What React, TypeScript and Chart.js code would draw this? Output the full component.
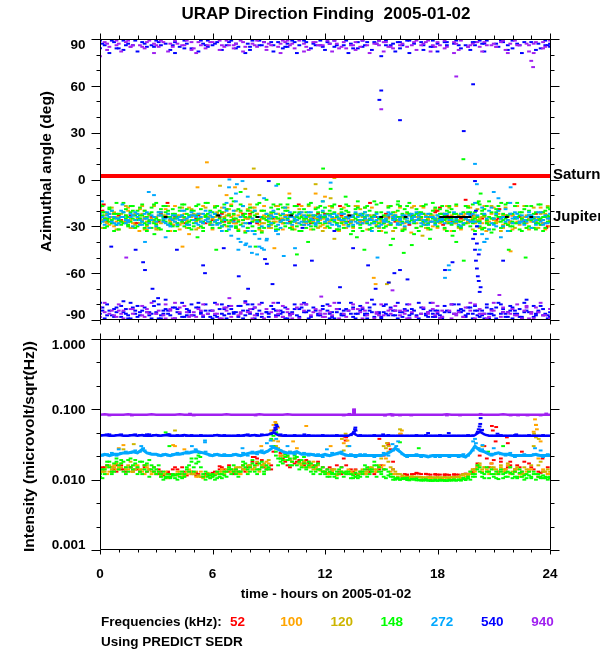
import React, { useEffect, useRef } from "react";
import { Chart, registerables } from "chart.js";
Chart.register(...registerables);

// ---------- sample times (hours) ----------
const H = [0,.25,.5,.75,1,1.25,1.5,1.75,2,2.25,2.5,2.75,3,3.25,3.5,3.75,4,4.25,4.5,4.75,5,5.25,5.5,5.75,6,6.25,6.5,6.75,7,7.25,7.5,7.75,8,8.25,8.5,8.75,9,9.25,9.5,9.75,10,10.25,10.5,10.75,11,11.25,11.5,11.75,12,12.25,12.5,12.75,13,13.25,13.5,13.75,14,14.25,14.5,14.75,15,15.25,15.5,15.75,16,16.25,16.5,16.75,17,17.25,17.5,17.75,18,18.25,18.5,18.75,19,19.25,19.5,19.75,20,20.25,20.5,20.75,21,21.25,21.5,21.75,22,22.25,22.5,22.75,23,23.25,23.5,23.75,24];
const H2 = [.13,.38,.63,.88,1.13,1.38,1.63,1.88,2.13,2.38,2.63,2.88,3.13,3.38,3.63,3.88,4.13,4.38,4.63,4.88,5.13,5.38,5.63,5.88,6.13,6.38,6.63,6.88,7.13,7.38,7.63,7.88,8.13,8.38,8.63,8.88,9.13,9.38,9.63,9.88,10.13,10.38,10.63,10.88,11.13,11.38,11.63,11.88,12.13,12.38,12.63,12.88,13.13,13.38,13.63,13.88,14.13,14.38,14.63,14.88,15.13,15.38,15.63,15.88,16.13,16.38,16.63,16.88,17.13,17.38,17.63,17.88,18.13,18.38,18.63,18.88,19.13,19.38,19.63,19.88,20.13,20.38,20.63,20.88,21.13,21.38,21.63,21.88,22.13,22.38,22.63,22.88,23.13,23.38,23.63,23.88];

// ---------- azimuthal angle (deg) ----------
const SATURN_DEG = 2.3;
const JUPITER_DEG = -24;

const R_A1 = [-20,-27,null,-24, -26,null,-23,-28, null,-25,-22,null, -27,null,-24,-29, null,-26,null,-23, -25,null,-28,null, null,-24,-27,null, -26,null,-22,-25, null,-28,null,-24, -23,null,-26,null, -27,-24,null,-29, null,-25,-22,null, -26,null,-28,-23, null,-24,null,-27, -25,null,-23,null, -28,-24,null,-26, null,-27,-23,null, -24,null,-27,-21, -18,-22,-25,null, -24,null,-27,-23, null,-25,-28,null, -26,null,-23,-27, null,-24,-27,null, -25,null,-28,-30];
const R_A2 = [null,-25,-22,null, -23,null,-27,null, -28,null,null,-24, null,-22,null,-26, -24,null,-28,null, null,-23,null,-25, -26,null,-22,null, null,-28,null,-24, -22,null,-26,null, null,-25,null,-28, -23,null,-26,null, null,-28,null,-24, -22,null,-25,null, null,-27,-23,null, -28,null,null,-24, null,-22,null,-27, -25,null,-29,null, null,-22,-25,null, -20,null,-23,-27, null,-25,null,-22, -27,null,-23,null, null,-25,null,-29, -23,null,-26,null, null,-22,-26,null, -27];
const R_A_OUT = [[22.1,-3],[19.5,-13],[18.3,-29],[14.4,-15],[0.2,-16],[3.6,-15],[10.6,-16],[23.8,-31],[12.8,-17],[21.3,-19],[17.9,-20]];

const O_A1 = [-26,-23,-29,-21, -24,-27,-20,-28, -22,-26,-30,-25, -28,-21,-24,-27, -25,-29,-22,-35, -23,-26,-28,-24, -29,-22,-26,-10, -24,-28,-21,-25, -20,-26,-29,-23, -27,-24,-22,-28, -25,-30,-24,-21, -28,-23,-9,-26, -24,-27,-25,-22, -29,-23,-26,-28, -22,-26,-24,-29, -27,-24,-28,-21, -25,-28,-23,-26, -22,-27,-25,-30, -26,-24,-28,-23, -24,-30,-22,-26, -28,-25,-23,-27, -26,-22,-29,-24, -23,-27,-25,-28, -27,-24,-29,-22, -26];
const O_A2 = [-21,-28,-24,-27, -27,-23,-26,-22, -25,-20,-28,-24, -23,-27,-22,-29, -28,-24,-27,-23, -26,-22,-24,-29, -24,-28,-21,-27, -28,-23,-26,-19, -25,-22,-28,-26, -22,-27,-25,-23, -28,-24,-22,-27, -24,-27,-25,-29, -26,-22,-28,-24, -24,-26,-22,-27, -27,-23,-28,-25, -24,-29,-25,-27, -28,-22,-26,-24, -25,-29,-23,-27, -28,-25,-27,-22, -26,-23,-27,-25, -24,-28,-26,-22, -27,-25,-23,-28, -25,-29,-24,-26, -24,-26,-28,-25];
const O_A3 = [-18,-31,null,-30, -32,null,-18,-31, null,-17,-32,null, -31,null,-19,-33, -17,-32,null,-18, null,-31,-17,null, -32,null,-18,-30, -16,-31,null,-33, null,-18,-32,-17, -31,null,-17,-32, -18,-31,null,-17, null,-32,-18,null, -31,-17,null,-33, -18,null,-31,-17, null,-32,-18,null, -33,null,-17,-31, -18,-31,null,-17, null,-18,-32,null, -31,null,-17,-33, -17,-32,null,-18, null,-31,-17,-32, -18,null,-31,null, -32,-17,null,-31, null,-31,-18,-32, -30];
const O_A_OUT = [[5.7,11],[7.2,-5],[4.4,-43],[10.1,-9],[12.0,-11],[14.6,-63],[14.7,-67],[21.9,-46],[9.3,-44],[2.1,-33],[16.6,-34],[23.6,-21],[5.2,-5],[20.6,-33],[8.0,-16]];

const Y_A1 = [-23,-27,-25,-22, -26,-24,-29,-23, -25,-22,-27,-26, -24,-28,-23,-26, -27,-23,-25,-29, -22,-26,-28,-24, -25,-21,-27,-23, -27,-20,-24,-6, -23,-26,-10,-28, -24,-27,-22,-25, -26,-24,-28,-23, -23,-27,-25,-30, -25,-22,-38,-26, -27,-24,-26,-23, -24,-28,-25,-27, -26,-23,-29,-24, -27,-25,-22,-26, -24,-28,-26,-23, -25,-22,-27,-26, -28,-24,-25,-27, -23,-26,-24,-29, -25,-27,-23,-26, -28,-24,-26,-23, -25,-27,-22,-28, -24];
const Y_A2 = [-26,-22,-28,-24, -22,-27,-25,-29, -28,-24,-23,-27, -26,-23,-29,-25, -23,-28,-26,-24, -27,-25,-23,-28, -26,-28,-24,-22, -23,-26,-28,-25, -27,-22,-25,-24, -29,-25,-27,-23, -24,-27,-22,-26, -26,-24,-28,-25, -28,-25,-24,-27, -25,-28,-22,-26, -26,-23,-27,-24, -28,-25,-23,-26, -24,-27,-25,-28, -26,-23,-27,-25, -27,-25,-24,-28, -23,-26,-28,-24, -26,-24,-27,-25, -28,-25,-24,-27, -24,-27,-28,-25, -27,-25,-26,-24];
const Y_A3 = [-31,null,-18,-32, null,-17,-31,null, -19,-32,null,-17, -32,null,-17,null, null,-18,-31,-19, -32,null,-18,null, -17,-31,null,-19, null,-32,-17,-31, -18,null,-33,null, -31,-17,null,-18, null,-32,-19,null, -17,null,-31,-33, null,-18,-32,null, -31,null,-17,-19, -18,-32,null,-31, null,-17,-33,null, -32,null,-18,-31, -17,-31,null,-19, null,-32,-18,null, -31,null,-17,-32, -19,-31,null,-17, null,-33,-18,null, -31,null,-17,-32, -18,-31,null,-17];
const Y_A_OUT = [[6.4,-4],[11.5,-3],[12.3,-12],[15.3,-67],[15.4,-66],[12.5,1],[8.6,-20],[8.2,7],[17.2,-36],[3.0,-32]];

const G_A1 = [-24,-21,-27,-25, -22,-28,-24,-20, -26,-23,-29,-21, -25,-19,-27,-24, -22,-26,-30,-23, -20,-25,-27,-22, -24,-28,-21,-26, -17,-25,-29,-22, -24,-20,-27,-25, -23,-28,-19,-26, -25,-22,-30,-24, -21,-26,-23,-28, -24,-20,-27,-25, -22,-29,-24,-18, -26,-23,-28,-21, -25,-30,-22,-26, -24,-19,-27,-23, -26,-22,-28,-25, -23,-27,-20,-25, -26,-22,-28,-24, -21,-27,-23,-29, -25,-20,-26,-23, -27,-24,-21,-26, -23,-28,-25,-20, -24];
const G_A2 = [-28,-25,-19,-22, -26,-21,-30,-25, -20,-27,-24,-31, -29,-23,-21,-28, -25,-20,-24,-27, -28,-22,-31,-25, -21,-23,-27,-19, -26,-30,-20,-24, -28,-23,-31,-20, -27,-21,-25,-22, -20,-27,-24,-29, -25,-30,-19,-23, -28,-23,-21,-30, -25,-21,-33,-26, -22,-28,-24,-30, -21,-26,-29,-23, -29,-25,-22,-28, -21,-27,-24,-20, -27,-22,-25,-29, -22,-27,-25,-21, -25,-30,-19,-24, -28,-24,-22,-29, -22,-28,-25,-31, -26,-21,-29,-24, -27];
const G_A3 = [-23,-26,-20,-29, -24,-19,-27,-23, -25,-28,-22,-26, -21,-26,-24,-30, -28,-23,-19,-26, -23,-27,-24,-20, -27,-25,-29,-23, -22,-19,-26,-28, -21,-26,-24,-22, -25,-30,-23,-28, -23,-26,-21,-25, -27,-23,-26,-21, -22,-26,-24,-28, -27,-24,-22,-29, -24,-20,-27,-25, -28,-23,-25,-20, -22,-27,-24,-31, -24,-29,-22,-26, -25,-23,-28,-22, -24,-29,-21,-26, -27,-22,-26,-21, -23,-27,-25,-30, -25,-21,-28,-23, -22,-26,-24,-27];
const G_A4 = [-17,-30,-26,-15, -29,-25,-17,-31, -18,-31,-27,-16, -31,-17,-33,-19, -30,-16,-28,-32, -17,-30,-15,-29, -18,-31,-16,-30, -14,-33,-17,-31, -30,-16,-34,-13, -18,-32,-16,-30, -31,-17,-33,-19, -16,-32,-18,-14, -30,-17,-32,-19, -16,-35,-19,-31, -18,-32,-14,-33, -31,-18,-38,-16, -33,-17,-42,-19, -30,-16,-32,-18, -19,-31,-17,-33, -30,13,-18,-16, -15,-32,-17,-34, -19,-31,-16,-33, -17,-32,-19,-30, -31,-16,-33,-18];
const G_A5 = [-21,-25,-28,-22, -27,-23,-21,-26, -23,-20,-26,-28, -26,-24,-20,-22, -24,-27,-22,-20, -26,-19,-23,-27, -22,-20,-25,-28, -25,-27,-23,-20, -27,-24,-20,-26, -21,-24,-27,-20, -28,-21,-25,-27, -23,-28,-21,-24, -26,-22,-28,-21, -20,-27,-25,-23, -21,-26,-23,-28, -23,-27,-21,-24, -27,-21,-26,-22, -21,-26,-24,-28, -22,-26,-21,-27, -27,-21,-24,-28, -24,-20,-28,-25, -21,-24,-28,-22, -28,-23,-26,-20, -25,-28,-21,-23];
const G_A6 = [-16,-31,-18,-33, -32,-15,-29,-17, -30,-16,-33,-18, -15,-32,-17,-29, -33,-18,-16,-31, -30,-16,-33,-15, -31,-17,-30,-33, -12,-31,-16,-34, -18,-33,-15,-31, -29,-16,-32,-18, -16,-32,-17,-33, -31,-15,-30,-17, -18,-31,-16,-32, -31,-17,-30,-14, -33,-17,-31,-16, -15,-34,-17,-31, -17,-32,-15,-35, -33,-17,-31,-15, -30,-17,-33,-19, -16,-31,-17,-30, -33,-16,-31,-14, -32,-17,-30,-15, -30,-15,-33,-17, -17,-32,-16,-31, -19];
const G_A_OUT = [[2.9,-35],[5.2,-37],[8.3,-43],[10.5,-48],[11.1,-40],[13.7,-37],[14.1,-45],[15.5,-42],[16.2,-47],[19.0,-40],[19.4,-52],[20.3,-9],[21.8,-45],[22.7,-50],[9.5,-3],[12.3,-6],[10.1,-12],[21.4,-15],[6.2,-45],[17.6,-38],[11.9,7],[7.5,-8],[13.1,-11],[15.9,-14],[18.8,-36],[20.2,-14]];

const C_A1 = [-22,-26,-24,-28, -25,-21,-27,-23, -24,-29,-21,-26, -27,-23,-25,-30, -23,-26,-20,-24, -26,-22,-28,-25, -24,-29,-33,-15, -36,-9,-40,-28, -43,-20,-38,-12, -30,-24,-35,-22, -26,-29,-23,-27, -24,-21,-28,-25, -27,-23,-26,-30, -22,-25,-29,-24, -28,-23,-33,-26, -24,-27,-22,-25, -26,-23,-28,-24, -25,-29,-22,-27, -23,-26,-24,-28, -27,-22,-25,-23, -15,-28,-40,-20, -29,-12,-24,-33, -25,-22,-27,-24, -23,-26,-21,-28, -25];
const C_A2 = [-27,-23,-20,-25, -24,-28,-22,-26, -29,-25,-31,-10, -23,-27,-22,-26, -25,-20,-29,-23, -28,-24,-26,-21, -27,-23,-26,-5, -27,-45,-17,-33, -25,-48,-30,-39, -23,-33,-27,-18, -24,-27,-22,-29, -21,-26,-24,-14, -25,-29,-23,-26, -28,-24,-27,-22, -25,-29,-24,-30, -27,-23,-26,-28, -23,-27,-25,-21, -28,-24,-27,-25, -26,-22,-58,-24, -24,-28,-26,-22, -30,-35,-25,-18, -22,-37,-27,-15, -24,-28,-26,-21, -27,-24,-29,-25];
const C_A3 = [-25,-29,-22,-24, -28,-24,-26,-30, -22,-27,-25,-23, -30,-21,-28,-25, -27,-24,-26,-29, -23,-29,-22,-27, -29,-26,-30,-20, -30,-14,-24,-42, -28,-35,-24,-45, -25,-20,-29,-26, -28,-24,-26,-21, -27,-25,-29,-23, -23,-28,-22,-25, -26,-30,-23,-28, -23,-27,-26,-22, -29,-25,-28,-23, -25,-30,-23,-27, -23,-26,-29,-24, -27,-25,-22,-26, -25,-30,-24,-27, -27,-45,-22,-32, -25,-20,-30,-26, -28,-25,-23,-27, -25,-29,-27,-23, -22];
const C_A4 = [-24,-21,-27,-29, -20,-26,-24,-21, -26,-22,-28,-24, -21,-25,-29,-23, -29,-23,-25,-21, -24,-27,-20,-23, -22,-28,-18,-32, -20,-38,-30,-11, -33,-27,-44,-22, -28,-22,-31,-24, -21,-25,-28,-23, -29,-23,-27,-20, -26,-24,-29,-22, -24,-27,-21,-26, -21,-25,-28,-24, -26,-21,-24,-29, -28,-25,-22,-26, -22,-27,-24,-29, -24,-28,-26,-21, -29,-24,-22,-27, -23,-18,-38,-28, -30,-25,-19,-22, -21,-27,-29,-23, -24,-21,-26,-28];
const C_A_OUT = [[0.1,-14],[1.2,-16],[2.4,-40],[2.6,-8],[6.9,0],[7.3,-3],[7.6,-1],[8.1,-47],[8.5,-43],[8.9,-38],[9.4,-4],[12.3,-2],[14.8,-50],[18.4,-63],[18.6,-55],[20.1,-3],[20.0,10],[20.5,-40],[21.0,-8],[21.9,-5],[23.0,-31],[9.8,-49],[10.4,-44],[3.5,-37],[7.0,-30],[7.8,-41]];

const B_N1 = [89,86,90,88, 84,89,87,null, 90,88,null,86, 89,null,87,90, 88,85,89,null, 90,null,87,89, null,88,90,86, 89,87,null,90, 85,null,89,88, 90,86,88,null, 87,89,null,90, 88,null,86,89, 90,87,89,null, 86,90,84,88, 89,88,90,87, 79,89,86,90, 88,null,89,87, 90,86,null,89, 87,90,88,null, 89,null,86,90, 88,89,87,90, null,90,88,86, 89,87,90,null, 88,90,84,89, 87];
const B_N2 = [87,null,89,84, 90,86,null,89, null,87,90,85, 88,90,null,86, 90,null,87,84, null,89,86,90, 87,90,null,88, null,85,90,87, 89,90,86,null, 88,null,90,85, null,88,86,89, 90,87,null,85, 88,null,86,90, 89,87,90,null, 86,90,88,89, 90,null,87,88, 86,89,90,null, 88,null,85,90, null,88,90,87, 86,90,null,88, 90,87,89,null, 87,89,null,90, null,86,88,90, 90,87,null,86];
const B_N3 = [84,null,81,null, null,83,null,86, 82,null,85,null, null,86,null,83, 81,null,84,null, null,82,null,85, 86,null,83,null, null,84,null,81, 83,null,86,null, null,82,null,84, 85,null,81,null, null,84,null,86, 83,null,85,null, null,81,null,84, 85,null,83,null, null,86,null,82, 84,null,81,null, null,83,null,85, 82,null,86,null, null,84,null,83, 86,null,82,null, null,85,null,83, 84,null,81,null, null,83,null,86, 85];
const B_S1 = [-86,-89,-84,-88, -90,-85,-87,-82, -88,-84,-90,-86, -85,-89,-83,-87, -89,-86,-90,-84, -87,-82,-88,-90, -84,-88,-86,-89, -90,-85,-81,-87, -86,-89,-84,-90, -88,-83,-87,-85, -89,-86,-90,-82, -85,-88,-84,-87, -90,-86,-89,-83, -87,-84,-88,-86, -83,-89,-85,-90, -88,-86,-82,-87, -85,-90,-87,-84, -89,-83,-88,-86, -86,-88,-84,-90, -90,-85,-87,-82, -84,-88,-86,-89, -87,-90,-83,-85, -89,-86,-88,-84, -85,-87,-90,-86, -88];
const B_S2 = [-82,-87,-90,-85, -88,-83,-89,-86, -85,-90,-87,-81, -89,-86,-84,-90, -83,-88,-87,-80, -90,-85,-84,-88, -87,-90,-83,-86, -85,-88,-89,-84, -80,-86,-88,-85, -90,-87,-84,-89, -86,-83,-88,-85, -89,-90,-86,-83, -84,-88,-85,-87, -90,-86,-89,-81, -87,-84,-88,-86, -85,-90,-87,-89, -88,-84,-86,-90, -86,-87,-84,-88, -89,-85,-90,-86, -84,-88,-86,-89, -87,-84,-82,-86, -89,-86,-88,-84, -84,-88,-85,-90, -88,-84,-87,-89];
const B_S3 = [-79,-90,null,-83, null,-78,-89,null, -81,null,-85,-89, null,-87,-77,null, -82,null,-88,-85, null,-79,null,-86, -89,null,-80,null, -83,-90,null,-78, null,-82,-90,null, -86,null,-79,-88, null,-85,-87,null, -80,null,-90,-86, null,-89,null,-79, -84,null,-82,-90, null,-86,-77,null, -89,-80,null,-84, null,-83,-89,null, -79,null,-85,-88, -84,-89,null,-80, null,-83,-88,null, -81,null,-89,-86, null,-79,-85,-88, -82,null,-89,-77, null,-86,-81,-90, -85];
const B_S4 = [-84,-80,-87,-82, -81,-86,-79,-84, -87,-82,-85,-78, -80,-84,-86,-82, -85,-79,-83,-87, -82,-86,-80,-84, -79,-83,-87,-81, -86,-81,-84,-80, -83,-87,-79,-85, -81,-84,-86,-82, -87,-80,-83,-79, -84,-82,-87,-81, -80,-85,-83,-86, -83,-79,-86,-84, -86,-82,-80,-85, -81,-87,-84,-79, -85,-80,-83,-87, -82,-86,-79,-84, -87,-81,-85,-80, -80,-84,-82,-86, -84,-87,-80,-83, -82,-80,-86,-81, -86,-83,-79,-85, -81,-85,-83,-87];
const B_OUT = [[0.6,-43],[1.9,-45],[2.3,-53],[2.4,-58],[2.8,-70],[3.1,-76],[5.5,-55],[7.4,-62],[7.9,-70],[8.8,-51],[8.9,-54],[9.2,-67],[10.4,-55],[11.3,-52],[12.8,-69],[14.3,-55],[14.7,-70],[15.4,-66],[15.7,-60],[16.0,-58],[16.4,-64],[18.4,-58],[18.8,-53],[19.9,-38],[20.0,-45],[20.05,-52],[20.1,-57],[20.15,-62],[20.2,-65],[20.25,-72],[20.3,-69],[20.1,-41],[20.2,-48],[21.5,-52],[4.1,-45],[6.6,-44],[5.6,-60],[13.5,-44],[14.9,51],[15.0,57],[16.0,38],[19.4,31],[19.9,61],[20.0,-1],[9.0,-1],[8.0,-28],[10.8,-31],[12.5,-33],[20.05,-20],[20.1,-30],[20.0,-35]];

const P_N1 = [79,88,85,90, 87,null,89,86, 90,85,88,null, 86,89,null,87, 89,null,86,90, 84,88,null,86, 88,null,86,89, null,87,89,85, 90,86,null,88, 87,null,85,89, 89,87,90,null, 85,null,88,86, null,87,89,84, 88,90,86,null, 89,86,null,87, 90,88,85,null, 86,90,null,88, null,87,89,86, 88,null,85,90, 87,89,null,86, 90,85,88,null, 87,null,89,81, 90,86,null,87, 76,88,90,85, 89];
const P_N2 = [90,87,null,89, null,88,85,90, 86,null,89,87, 90,88,null,85, 87,null,89,88, 90,86,null,88, null,89,85,90, 86,null,88,90, 87,89,null,85, null,90,87,88, 86,null,89,87, 90,88,null,86, 89,null,87,90, null,86,88,85, 90,null,87,89, 88,85,null,90, 87,null,86,89, 90,88,null,85, 86,89,null,88, null,90,85,87, 88,null,86,90, 85,88,null,87, 89,null,90,86, 87,90,88,null];
const P_N3 = [null,83,null,86, 82,null,85,null, null,84,null,81, 85,null,82,null, null,86,null,83, 81,null,84,null, null,83,null,86, 84,null,82,null, null,85,null,83, 86,null,81,null, null,84,null,82, 83,null,86,null, null,82,null,85, 84,null,83,null, null,81,null,86, 82,null,84,null, null,85,null,83, 86,null,82,null, null,84,null,81, 83,null,85,null, null,82,null,86, 85,null,83,null, null,86,null,82, 81,null,84,null];
const P_S1 = [-88,-85,-90,-87, -84,-89,null,-86, -90,-87,-83,null, -86,null,-89,-84, -89,-82,null,-88, -85,-90,-87,null, null,-86,-89,-84, -88,null,-85,-90, -83,-87,null,-89, -90,null,-86,-88, -85,-89,-82,null, null,-87,-90,-84, -88,-85,null,-89, -86,null,-83,-90, -89,-87,null,-85, null,-90,-86,-84, -87,-84,-89,null, -90,null,-86,-83, -85,-88,null,-89, -87,null,-90,-84, -89,-86,null,-88, -84,-90,-85,null, null,-87,-89,-82, -86,-90,null,-87, -89];
const P_S2 = [-90,null,-84,-88, -86,-90,-83,null, null,-88,-86,-90, -84,-87,null,-89, -90,null,-85,-87, -88,-84,null,-90, -86,-89,-82,null, null,-87,-90,-85, -89,null,-86,-83, -85,-88,null,-90, -87,null,-89,-84, -90,-85,null,-88, null,-87,-83,-90, -88,-90,null,-85, -84,null,-89,-87, -87,-84,-90,null, null,-89,-85,-88, -86,-90,null,-87, -89,null,-84,-86, -85,-88,-90,null, null,-86,-89,-84, -90,-88,null,-86, -87,null,-84,-89, -89,-85,-87,null];
const P_S3 = [-82,-79,-86,null, -80,-84,null,-83, null,-81,-85,-79, -86,null,-80,-83, -79,-85,-81,null, null,-83,-80,-86, -84,-80,null,-82, -81,null,-86,-79, -85,-82,-80,null, null,-79,-84,-81, -83,-86,null,-80, -80,null,-83,-86, -86,-81,-79,null, null,-84,-80,-83, -82,-79,null,-86, -80,null,-83,-81, -84,-86,-80,null, null,-82,-85,-79, -81,-84,null,-80, -86,null,-82,-79, -80,-83,-86,null, -79,null,-82,-85, -83,-80,null,-81, -85,-82,-79,null, -83];
const P_OUT = [[1.4,-50],[15.0,45],[19.0,66],[23.1,72],[21.3,-74],[15.6,-71],[6.9,-76],[11.8,-75]];

const JUP = [[18.2,-24],[18.3,-24],[18.4,-24],[18.5,-24],[18.6,-24],[18.7,-24],[18.8,-24],[18.9,-24],[19.0,-24],[19.1,-24],[19.2,-24],[19.3,-24],[19.4,-24],[19.5,-24],[19.6,-24],[19.7,-24],[6.3,-23],[8.4,-24],[13.3,-23],[16.3,-24],[23.0,-24],[10.2,-23],[3.5,-24],[15.0,-24],[21.7,-24]];

// ---------- intensity, in units of 0.001 microvolt/sqrt(Hz) ----------
const P_I = [84,85,84,84, 84,84,85,84, 84,84,84,85, 84,84,84,84, 84,85,84,84, 84,84,84,84, 84,84,84,85, 84,84,84,84, 84,84,85,84, 84,84,84,84, 85,84,84,84, 84,84,84,84, 84,84,84,84, 84,84,84,84, 84,84,84,84, 84,84,85,84, 84,84,84,84, 84,84,84,84, 84,84,85,84, 84,84,84,84, 84,84,84,84, 84,84,85,84, 84,84,84,84, 84,84,84,84, 84];
const P_I_OUT = [[13.55,100],[13.55,97],[13.55,94],[13.55,91],[13.55,88],[0.5,82],[1.7,82],[5.0,82],[8.3,82],[13.0,82],[15.2,81.5],[15.6,81.5],[16.0,82],[16.6,82],[18.5,82],[19.2,82],[21.9,82],[22.3,82],[22.8,82],[23.5,82],[4.8,86.5],[13.3,86],[20.3,86],[23.8,87]];
const B_I = [42,43,42,42, 43,42,42,43, 42,43,42,42, 43,42,43,42, 42,42,43,42, 42,42,42,42, 42,43,42,42, 42,42,42,43, 42,43,42,43, 44,47,43,42, 42,42,42,42, 42,42,42,42, 42,42,42,42, 42,42,46,42, 42,42,42,42, 42,42,42,42, 42,42,42,42, 42,42,42,42, 42,42,42,42, 42,42,42,42, 43,48,44,42, 42,42,42,42, 42,42,42,42, 42,42,42,42, 42];
const B_I2 = [43,44,42,43, 44,42,43,44, 43,42,44,43, 42,43,44,42, 43,42,42,43, 42,43,42,42, 43,42,43,42, 42,43,42,44, 43,42,44,43, 45,52,44,43, 42,43,42,42, 43,42,42,43, 42,42,43,42, 42,43,50,43, 42,42,43,42, 42,43,42,42, 42,42,42,43, 42,43,42,42, 43,42,42,42, 42,42,43,42, 46,51,43,42, 42,43,42,42, 43,42,42,43, 42,42,43,42];
const B_I_OUT = [[9.3,50],[9.35,55],[9.4,60],[9.45,57],[13.55,48],[13.6,52],[13.62,55],[20.15,48],[20.2,52],[20.25,57],[20.28,62],[20.3,75],[20.35,50],[17.5,46],[15.1,44],[10.9,44],[21.2,45],[22.2,44],[2.5,44],[3.7,44],[0.5,44],[18.6,46]];
const C_I = [22,23,22,23, 23,24,24,25, 24,27,24,23, 23,22,23,22, 23,23,24,24, 25,25,24,23, 22,23,22,22, 22,23,22,23, 24,24,25,24, 26,29,27,25, 24,24,25,23, 23,23,22,22, 23,22,23,24, 23,22,22,22, 22,22,22,22, 22,23,25,28, 25,22,22,22, 22,22,21,22, 22,22,22,22, 22,22,21,24, 30,26,25,23, 23,24,23,23, 22,22,22,22, 22,23,22,22, 22];
const C_I2 = [22,23,24,22, 24,25,24,26, 25,26,24,23, 22,23,22,23, 24,23,25,25, 26,24,25,22, 23,22,23,22, 23,22,24,22, 25,23,26,25, 30,28,26,24, 25,23,24,24, 22,23,23,21, 22,24,23,25, 22,23,21,23, 23,22,21,22, 24,22,26,27, 23,21,22,23, 21,22,22,21, 21,22,21,22, 21,23,22,26, 28,27,24,22, 24,23,22,24, 21,22,23,22, 23,22,21,23];
const C_I_OUT = [[2.3,28],[2.2,30],[8.9,33],[9.1,36],[9.4,38],[10.0,30],[13.3,30],[15.6,32],[15.8,30],[15.9,35],[19.9,35],[20.0,38],[20.05,33],[20.2,28],[20.4,31],[21.0,28],[4.9,30],[1.0,27],[5.1,27],[23.2,28],[23.5,26],[12.1,27],[7.6,28],[5.6,36],[5.6,34]];

const R_I1 = [14,16,15,13, 14,13,15,14, 13,15,14,13, 12,11.5,13,14, 14,12,11.5,12, 11.5,11,12,12, 13,15.5,14,13, 12,13,14,15, 18,20,16,14, 14,28,22,18, 15,17,19,18, 17,16,18,15, 14,13,16,12, 40,14,12,13, 12,13,12,15, 14,31,18,12, 11,11.5,12,12.5, 12,12,11.8,11.8, 11.8,11.7,11.7,11.8, 11.8,11.9,12,12.5, 15,26,20,17, 56,18,14,16, 13,15,12,17, 14,11,13,12];
const R_I2 = [13,15,null,14, null,14,null,13, 14,null,13,null, null,13,null,12, 15,null,13,null, null,12,null,11.5, 12.5,null,15,null, null,14,null,13, 16,21,null,15, null,25,null,20, 16,null,18,null, 19,null,15,null, null,15,null,13, 20,null,13,null, null,14,null,13, 16,null,27,null, null,12,null,12, 12.2,null,11.9,null, 11.8,null,11.8,null, 11.8,null,12.2,null, 14,22,30,15, 19,13,null,15, null,16,13,null, 15,null,12.5,null, 12];
const R_I3 = [15,null,13,16, 16,null,15,null, null,16,null,15, 14,null,12.5,null, null,15,null,13, 12.5,null,12,null, null,14,null,16, 13,null,16,null, null,17,19,null, 16,null,24,null, null,20,null,16, 18,null,17,null, null,14,null,15, 16,null,14,null, null,13,null,14, 22,null,14,null, null,11.8,null,12.3, null,12.1,null,12, null,11.9,null,11.9, null,12,null,13, 17,null,24,null, null,20,null,18, 14,null,18,null, null,13,null,15];
const R_I_OUT = [[13.05,41],[13.1,36],[20.9,58],[20.95,50],[21.1,35],[9.35,52],[15.35,33],[22.5,25],[23.6,20],[8.15,21],[21.7,40],[21.75,33],[14.9,38]];

const O_I1 = [12,14,13,16, 15,31,14,13, 16,13,15,12, 12,11,13,11, 30,12,11,14, 12,11,10.5,12, 11,12,14,13, 13,15,12,14, 15,14,13,16, 17,60,35,25, 22,18,28,17, 58,16,15,14, 13,12,14,12, 33,14,12,11.5, 13,12,14,13, 15,20,13,12, 45,11,10.5,11, 11,10.7,10.6,10.6, 10.6,10.5,10.6,10.7, 10.8,10.6,11,12, 13,16,15,12, 14,12,13,16, 12,14,11,13, 14,60,35,13, 12];
const O_I2 = [13,12,15,14, 17,15,13,16, 14,12,14,13, 13,12,10.5,11.5, 13,11,12,13, 11,13,11,10.5, 12,11,13,15, 14,12,16,13, 14,16,15,18, 50,30,22,19, 25,20,17,15, 15,18,14,13, 12,13,11.5,13, 12,13,11,12, 12,14,13,15, 16,25,12,11, 11,10.8,10.7,10.7, 10.7,10.6,10.5,10.6, 10.6,10.7,10.5,10.6, 10.9,11.5,12,14, 15,13,14,17, 12,15,14,12, 13,11,12,14, 48,20,14,12];
const O_I_OUT = [[3.9,31],[1.0,28],[4.5,27],[9.35,66],[9.5,55],[10.3,35],[16.1,50],[16.05,45],[23.2,72],[23.25,60],[23.3,52],[12.3,30],[8.6,30],[13.2,36]];

const Y_I1 = [12.5,13,16,15, 14,27,16,13, 15,14,16,13, 12,11.5,12,11, 12,13,11.5,13, 12,11.5,11,12.5, 11.5,12.5,13,14, 14,13,15,14, 16,15,14,17, 19,36,28,22, 21,18,24,16, 17,15,14,13.5, 13,12.5,14,12, 26,13,12.5,12, 14,13,15,14, 20,28,15,13, 12,11,11,10.9, 10.8,10.8,10.9,10.8, 10.9,10.8,10.8,10.9, 11,11.5,12,13, 14,17,15,13, 15,13,14,17, 13,15,12,14, 16,40,18,13, 13];
const Y_I2 = [13,15,14,17, 15,14,18,14, 13,16,14,15, 13,12,11,12, 11.5,12,13,12, 13,11,11.5,12, 12,13,12,15, 13,15,14,16, 14,18,16,15, 45,30,20,24, 19,23,17,18, 15,14,16,13, 12.5,14,12,13, 13,12,13.5,12, 13,15,14,16, 30,18,14,12, 11.5,11,11.2,11, 10.9,10.8,10.9,10.8, 10.8,10.9,10.8,10.9, 11,12,11.5,14, 16,14,13,15, 14,16,13,15, 14,12,15,13, 30,16,13,14];
const Y_I_OUT = [[4.0,50],[1.8,32],[9.4,62],[9.6,42],[15.3,33],[15.4,30],[16.0,52],[23.15,45],[23.4,38],[20.4,30],[13.2,30],[13.1,45],[12.9,38]];

const G_I1 = [11,12,15,17, 14,18,13,16, 15,12,17,14, 12,11,10.5,11, 10.5,11,12,16, 13,22,12,11, 11,10.5,12,13, 12,14,13,15, 13,16,14,13, 15,42,20,17, 19,16,21,15, 14,17,13,12, 12,13,11,12, 11,12,11.5,10.5, 12,15,13,11, 12,14,11,10.5, 10,10.2,9.8,10, 9.8,9.7,9.7,9.6, 9.6,9.7,9.6,9.7, 9.8,9.7,9.9,10, 11,13,12,10.5, 11,12,10.5,11, 12,10.5,11,12, 11,10,10.5,11, 10.5];
const G_I2 = [10.5,16,13,18, 17,12,15,19, 13,16,11,15, 13,10,11,12, 10,10.5,14,18, 20,15,10,11.5, 10,11,11.5,14, 13,11,16,12, 17,12,15,14, 38,25,18,21, 16,20,14,17, 16,12,14,13, 11,12.5,10.5,13, 12,10.5,12.5,11, 14,12,16,13, 11,13,10,10.3, 10.5,9.9,10.3,9.8, 9.7,9.8,9.6,9.7, 9.7,9.6,9.7,9.8, 9.9,10.2,10.5,11, 14,11,13,12, 10.5,13,11,12.5, 11,12.5,10,11.5, 12,11,10.5,10];
const G_I3 = [12,14,18,13, 16,13,19,14, 12,18,13,16, 14,12,11,10.5, 11.5,12,11,13, 15,18,11,12, 12,13,10.5,11, 14,12,13,17, 15,13,17,12, 14,30,16,19, 22,18,16,19, 15,13,16,14, 13,11,12,14, 12.5,13,10.5,11.5, 13,11,14,16, 13,10.5,12,10, 10,10.5,10,10.2, 9.9,10,9.8,9.8, 9.8,9.9,9.8,9.9, 9.7,9.9,10.2,13, 12,15,10.5,13, 12,10.2,12,13, 10.5,11,13,10.5, 10.5,12,11,10.5, 11];
const G_I4 = [14,18,12,20, 19,15,20,17, 18,14,19,13, 16,13,12,11.5, 12,13,15,20, 17,24,13,10.5, 11.5,12,13,15, 16,13,18,14, 19,14,18,16, 44,22,20,23, 20,22,18,21, 18,15,17,15, 14,12,13,15, 13,12,11,13, 16,14,18,15, 14,11.5,11,10.7, 10.2,10.6,10.1,10.4, 10,10.1,9.9,10, 10,9.9,10,10.1, 10.1,10.6,11,12, 16,12.5,15,14, 13,14,12.5,15, 13,14,11.5,13, 13,12,11.5,10.8];
const G_I_OUT = [[3.5,47],[3.6,44],[3.7,30],[9.4,47],[9.45,44],[16.0,34],[17.0,28],[20.7,25],[21.5,30],[5.3,24],[5.35,21]];

// ---------- axes ----------
const X_TICKS = [0,1,2,3,4,5,6,7,8,9,10,11,12,13,14,15,16,17,18,19,20,21,22,23,24];
const X_LABELS = [0,6,12,18,24];
const A_TICKS = [-90,-80,-70,-60,-50,-40,-30,-20,-10,0,10,20,30,40,50,60,70,80,90];
const A_LABELS = [90,60,30,0,-30,-60,-90];
const I_TICKS = [1,0.4642,0.2154,0.1,0.04642,0.02154,0.01,0.004642,0.002154,0.001];
const I_LABELS = [1,0.1,0.01,0.001];

const FREQS = ["52","100","120","148","272","540","940"];
const COLORS = ["#ff0000","#ffa500","#cdb500","#00ff00","#00a8ff","#0000ff","#a020f0"];
const TITLE = "URAP Direction Finding  2005-01-02";

const FONT = '"Liberation Sans", Arial, Helvetica, sans-serif';

type Pt = { x: number; y: number };
function cols(t: number[], v: (number | null)[], k = 1): Pt[] {
  const out: Pt[] = [];
  const n = Math.min(t.length, v.length);
  for (let i = 0; i < n; i++) {
    const y = v[i];
    if (y !== null && y !== undefined) out.push({ x: t[i], y: y * k });
  }
  return out;
}
function pairs(p: number[][], k = 1): Pt[] {
  return p.map(([x, y]) => ({ x, y: y * k }));
}
function dots(label: string, color: string, data: Pt[], order: number) {
  return {
    label, data, order, showLine: false, clip: 0,
    pointStyle: "line", pointRadius: 1.9, pointBorderWidth: 2,
    pointBorderColor: color, pointBackgroundColor: color, pointHoverRadius: 0,
  };
}
function trace(label: string, color: string, data: Pt[], width: number, order: number) {
  return {
    label, data, order, showLine: true, clip: 0, borderColor: color, borderWidth: width,
    pointRadius: 0, pointHoverRadius: 0, tension: 0, borderJoinStyle: "miter",
  };
}

function frame(ctx: CanvasRenderingContext2D, a: any, xs: any, ys: any, yTicks: number[], yMajor: (v: number) => boolean) {
  const L = Math.round(a.left) + 0.5, R = Math.round(a.right) + 0.5;
  const T = Math.round(a.top) + 0.5, B = Math.round(a.bottom) - 0.5;
  ctx.strokeStyle = "#000";
  ctx.lineWidth = 1;
  ctx.beginPath();
  ctx.moveTo(L, T); ctx.lineTo(R, T); ctx.lineTo(R, B); ctx.lineTo(L, B); ctx.closePath();
  for (const h of X_TICKS) {
    const px = Math.round(xs.getPixelForValue(h)) + 0.5;
    const major = h % 6 === 0;
    ctx.moveTo(px, T); ctx.lineTo(px, T - (major ? 6 : 4));
    ctx.moveTo(px, B); ctx.lineTo(px, B + (major ? 5 : 3));
  }
  for (const v of yTicks) {
    const py = Math.round(ys.getPixelForValue(v)) + 0.5;
    const major = yMajor(v);
    ctx.moveTo(L, py); ctx.lineTo(L - (major ? 9 : 4), py);
    ctx.moveTo(R, py); ctx.lineTo(R + (major ? 9 : 4), py);
  }
  ctx.stroke();
  return { L, R, T, B };
}

function yLabels(ctx: CanvasRenderingContext2D, a: any, ys: any, vals: number[], fmt: (v: number) => string, L: number) {
  ctx.fillStyle = "#000";
  ctx.font = `bold 13.5px ${FONT}`;
  ctx.textAlign = "right";
  ctx.textBaseline = "middle";
  for (const v of vals) {
    const py = ys.getPixelForValue(v) + 1;
    const yy = Math.min(Math.max(py, a.top + 6), a.bottom - 4.5);
    ctx.fillText(fmt(v), L - 15, yy);
  }
}

const topDecor = {
  id: "topDecor",
  afterDraw(chart: any) {
    const { ctx, chartArea: a } = chart;
    const xs = chart.scales.x, ys = chart.scales.y;
    ctx.save();
    const { L, R } = frame(ctx, a, xs, ys, A_TICKS, (v) => v % 30 === 0);
    yLabels(ctx, a, ys, A_LABELS, (v) => String(v), L);
    ctx.fillStyle = "#000";
    ctx.font = `bold 17px ${FONT}`;
    ctx.textAlign = "center";
    ctx.textBaseline = "middle";
    ctx.fillText(TITLE, (a.left + a.right) / 2 + 1, 14);
    ctx.font = `bold 15px ${FONT}`;
    ctx.textAlign = "left";
    ctx.fillText("Saturn", R + 2.5, ys.getPixelForValue(SATURN_DEG) - 1);
    ctx.fillText("Jupiter", R + 2.5, ys.getPixelForValue(JUPITER_DEG));
    ctx.save();
    ctx.translate(47, (a.top + a.bottom) / 2 - 8);
    ctx.rotate(-Math.PI / 2);
    ctx.textAlign = "center";
    ctx.font = `bold 15.5px ${FONT}`;
    ctx.fillText("Azimuthal angle (deg)", 0, 0);
    ctx.restore();
    ctx.restore();
  },
};

const botDecor = {
  id: "botDecor",
  afterDraw(chart: any) {
    const { ctx, chartArea: a } = chart;
    const xs = chart.scales.x, ys = chart.scales.y;
    ctx.save();
    const { L } = frame(ctx, a, xs, ys, I_TICKS, (v) => I_LABELS.includes(v));
    yLabels(ctx, a, ys, I_LABELS, (v) => v.toFixed(3), L);
    ctx.fillStyle = "#000";
    ctx.font = `bold 13.5px ${FONT}`;
    ctx.textAlign = "center";
    ctx.textBaseline = "middle";
    for (const h of X_LABELS) ctx.fillText(String(h), xs.getPixelForValue(h), a.bottom + 24);
    ctx.fillText("time - hours on 2005-01-02", (a.left + a.right) / 2 + 1, a.bottom + 44);
    ctx.textAlign = "left";
    ctx.fillText("Frequencies (kHz):", a.left + 1, a.bottom + 72);
    FREQS.forEach((f, i) => {
      ctx.fillStyle = COLORS[i];
      ctx.fillText(f, 230 + 50.2 * i, a.bottom + 72);
    });
    ctx.fillStyle = "#000";
    ctx.fillText("Using PREDICT SEDR", a.left + 1, a.bottom + 92);
    ctx.save();
    ctx.translate(30, (a.top + a.bottom) / 2 + 2);
    ctx.rotate(-Math.PI / 2);
    ctx.textAlign = "center";
    ctx.font = `bold 15.5px ${FONT}`;
    ctx.fillText("Intensity (microvolt/sqrt(Hz))", 0, 0);
    ctx.restore();
    ctx.restore();
  },
};

const baseOptions = (padding: any, yScale: any) => ({
  animation: false,
  responsive: false,
  devicePixelRatio: 1,
  events: [],
  layout: { padding },
  plugins: { legend: { display: false }, tooltip: { enabled: false }, title: { display: false } },
  scales: {
    x: { type: "linear", min: 0, max: 24, display: false },
    y: yScale,
  },
});

export default function App() {
  const topRef = useRef<HTMLCanvasElement>(null);
  const botRef = useRef<HTMLCanvasElement>(null);

  useEffect(() => {
    const E3 = 0.001;
    const top = new Chart(topRef.current as HTMLCanvasElement, {
      type: "scatter",
      data: {
        datasets: [
          trace("Saturn", "#ff0000", [{ x: 0, y: SATURN_DEG }, { x: 24, y: SATURN_DEG }], 4, 0),
          dots("Jupiter", "#000000", pairs(JUP), 1),
          dots("940", COLORS[6], [...cols(H, P_N1), ...cols(H2, P_N2), ...cols(H2, P_N3), ...cols(H, P_S1), ...cols(H2, P_S2), ...cols(H, P_S3), ...pairs(P_OUT)], 2),
          dots("540", COLORS[5], [...cols(H, B_N1), ...cols(H2, B_N2), ...cols(H, B_N3), ...cols(H, B_S1), ...cols(H2, B_S2), ...cols(H, B_S3), ...cols(H2, B_S4), ...pairs(B_OUT)], 3),
          dots("272", COLORS[4], [...cols(H, C_A1), ...cols(H2, C_A2), ...cols(H, C_A3), ...cols(H2, C_A4), ...pairs(C_A_OUT)], 4),
          dots("148", COLORS[3], [...cols(H, G_A1), ...cols(H, G_A2), ...cols(H2, G_A3), ...cols(H2, G_A4), ...cols(H2, G_A5), ...cols(H, G_A6), ...pairs(G_A_OUT)], 5),
          dots("120", COLORS[2], [...cols(H, Y_A1), ...cols(H2, Y_A2), ...cols(H2, Y_A3), ...pairs(Y_A_OUT)], 6),
          dots("100", COLORS[1], [...cols(H, O_A1), ...cols(H2, O_A2), ...cols(H, O_A3), ...pairs(O_A_OUT)], 7),
          dots("52", COLORS[0], [...cols(H2, R_A1), ...cols(H, R_A2), ...pairs(R_A_OUT)], 8),
        ] as any,
      },
      options: baseOptions({ left: 100, right: 50, top: 39, bottom: 10 }, { type: "linear", min: -90, max: 90, display: false }) as any,
      plugins: [topDecor],
    });

    const bot = new Chart(botRef.current as HTMLCanvasElement, {
      type: "scatter",
      data: {
        datasets: [
          trace("940", COLORS[6], cols(H, P_I, E3), 2.5, 0),
          dots("940", COLORS[6], pairs(P_I_OUT, E3), 1),
          trace("540", COLORS[5], cols(H, B_I, E3), 2.5, 2),
          dots("540", COLORS[5], [...cols(H2, B_I2, E3), ...pairs(B_I_OUT, E3)], 3),
          trace("272", COLORS[4], cols(H, C_I, E3), 3, 4),
          dots("272", COLORS[4], [...cols(H2, C_I2, E3), ...pairs(C_I_OUT, E3)], 5),
          dots("148", COLORS[3], [...cols(H, G_I1, E3), ...cols(H2, G_I2, E3), ...cols(H, G_I3, E3), ...cols(H2, G_I4, E3), ...pairs(G_I_OUT, E3)], 6),
          dots("120", COLORS[2], [...cols(H, Y_I1, E3), ...cols(H2, Y_I2, E3), ...pairs(Y_I_OUT, E3)], 7),
          dots("100", COLORS[1], [...cols(H, O_I1, E3), ...cols(H2, O_I2, E3), ...pairs(O_I_OUT, E3)], 8),
          dots("52", COLORS[0], [...cols(H2, R_I1, E3), ...cols(H, R_I2, E3), ...cols(H2, R_I3, E3), ...pairs(R_I_OUT, E3)], 9),
        ] as any,
      },
      options: baseOptions({ left: 100, right: 50, top: 9, bottom: 100 }, { type: "logarithmic", min: 0.001, max: 1, display: false }) as any,
      plugins: [botDecor],
    });

    return () => {
      top.destroy();
      bot.destroy();
    };
  }, []);

  return (
    <div style={{ position: "absolute", left: 0, top: 0, width: 600, height: 650, background: "#ffffff" }}>
      <canvas ref={topRef} width={600} height={330} style={{ position: "absolute", left: 0, top: 0 }} />
      <canvas ref={botRef} width={600} height={320} style={{ position: "absolute", left: 0, top: 330 }} />
    </div>
  );
}
